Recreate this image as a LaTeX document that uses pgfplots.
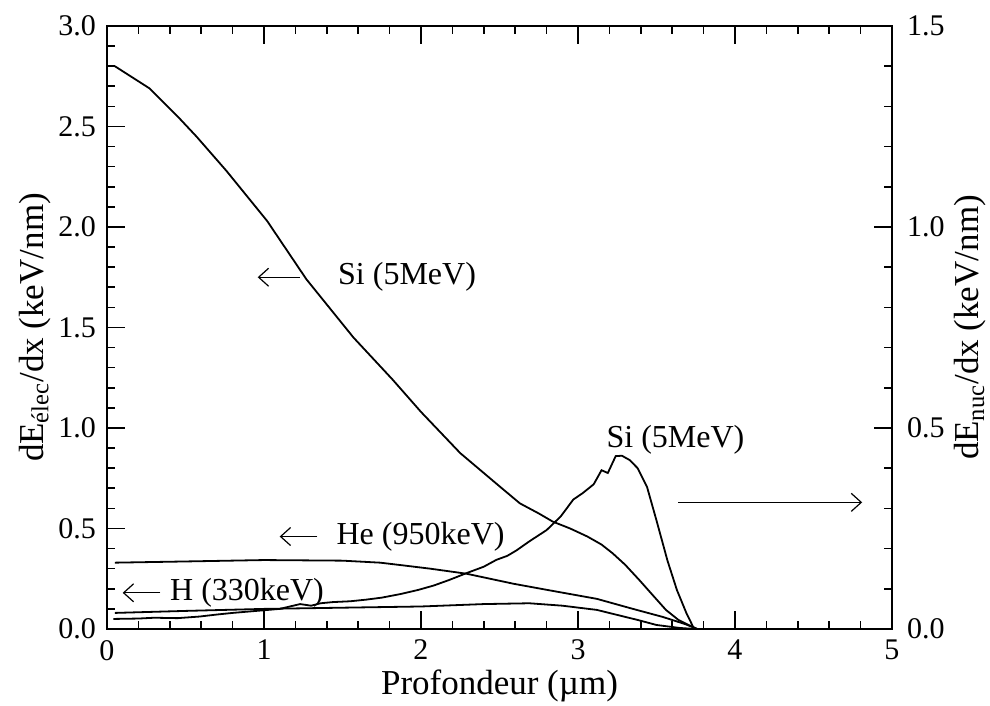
\documentclass[border=0pt]{standalone}
\usepackage{fontspec}
\setmainfont{Liberation Serif}
\usepackage{pgfplots}
\pgfplotsset{compat=1.18}
\usetikzlibrary{arrows.meta}

\pgfplotstableread{
x y
0.05 2.80
0.27 2.69
0.45 2.55
0.57 2.45
0.76 2.28
1.02 2.03
1.27 1.74
1.57 1.45
1.82 1.24
2.00 1.08
2.25 0.875
2.50 0.71
2.63 0.625
2.75 0.575
2.84 0.534
2.95 0.50
3.06 0.46
3.15 0.42
3.22 0.377
3.30 0.32
3.39 0.244
3.48 0.165
3.56 0.095
3.64 0.045
3.71 0.018
3.76 0.0
}\sielec

\pgfplotstableread{
x y
0.05 0.330
0.50 0.336
1.00 0.343
1.50 0.340
1.74 0.330
1.87 0.318
2.06 0.300
2.29 0.275
2.59 0.225
2.80 0.195
3.12 0.150
3.35 0.100
3.54 0.060
3.68 0.025
3.76 0.0
}\heelec

\pgfplotstableread{
x y
0.05 0.080
0.50 0.090
1.00 0.100
1.50 0.106
2.00 0.112
2.40 0.124
2.69 0.128
2.90 0.116
3.12 0.095
3.38 0.045
3.50 0.020
3.65 0.005
3.75 0.0
}\helec

\pgfplotstableread{
x y
0.04 0.025
0.20 0.026
0.30 0.028
0.45 0.027
0.59 0.031
0.70 0.036
0.80 0.040
0.95 0.045
1.10 0.050
1.23 0.062
1.30 0.058
1.36 0.064
1.44 0.067
1.55 0.069
1.65 0.073
1.75 0.078
1.87 0.087
1.98 0.097
2.08 0.108
2.18 0.122
2.29 0.139
2.40 0.155
2.48 0.172
2.55 0.182
2.61 0.196
2.69 0.218
2.80 0.246
2.89 0.280
2.97 0.322
3.03 0.338
3.10 0.360
3.15 0.395
3.19 0.388
3.24 0.430
3.28 0.431
3.33 0.420
3.38 0.400
3.44 0.353
3.50 0.270
3.57 0.170
3.63 0.097
3.69 0.040
3.74 0.0
}\sinuc

\begin{document}
\begin{tikzpicture}
\pgfplotsset{
  every axis/.append style={
    scale only axis,
    width=392.5pt, height=301.5pt,
    at={(0,0)}, anchor=south west,
    axis line style={line width=0.9pt},
    every tick/.style={black, line width=0.8pt},
    major tick length=9pt,
    minor tick length=4pt,
    tick label style={font=\fontsize{15}{17}\selectfont},
    label style={font=\fontsize{17.5}{20}\selectfont},
    /pgf/number format/assume math mode=true,
  },
}
\begin{axis}[
  xmin=0, xmax=5, ymin=0, ymax=3,
  xtick={0,1,2,3,4,5},
  minor x tick num=4,
  ytick={0,0.5,1,1.5,2,2.5,3},
  minor y tick num=4,
  ytick pos=left,
  xtick pos=both,
  xticklabel style={yshift=-2pt},
  yticklabel style={xshift=-2pt, /pgf/number format/.cd, fixed, fixed zerofill, precision=1},
  xlabel={Profondeur (µm)},
  ylabel={dE\textsubscript{élec}/dx (keV/nm)},
  xlabel style={at={(axis description cs:0.5,-0.095)}, anchor=center},
  ylabel style={at={(axis description cs:-0.092,0.5)}, anchor=center},
  clip=false,
]
\addplot[black, line width=0.9pt] table[x=x,y=y] {\sielec};
\addplot[black, line width=0.9pt] table[x=x,y=y] {\heelec};
\addplot[black, line width=0.9pt] table[x=x,y=y] {\helec};

\draw[line width=0.6pt, -{Straight Barb[length=5pt,width=9pt]}] (axis cs:1.23,1.75) -- (axis cs:0.96,1.75);
\node[anchor=west, inner sep=0, font=\fontsize{16}{18}\selectfont] at (axis cs:1.47,1.75) {Si (5MeV)};
\draw[line width=0.6pt, -{Straight Barb[length=5pt,width=9pt]}] (axis cs:1.34,0.46) -- (axis cs:1.10,0.46);
\node[anchor=west, inner sep=0, font=\fontsize{16}{18}\selectfont] at (axis cs:1.46,0.46) {He (950keV)};
\draw[line width=0.6pt, -{Straight Barb[length=5pt,width=9pt]}] (axis cs:0.34,0.18) -- (axis cs:0.10,0.18);
\node[anchor=west, inner sep=0, font=\fontsize{16}{18}\selectfont] at (axis cs:0.40,0.18) {H (330keV)};
\node[anchor=west, inner sep=0, font=\fontsize{16}{18}\selectfont] at (axis cs:3.18,0.94) {Si (5MeV)};
\draw[line width=0.6pt, -{Straight Barb[length=5pt,width=9pt]}] (axis cs:3.64,0.63) -- (axis cs:4.81,0.63);
\end{axis}

\begin{axis}[
  xmin=0, xmax=5, ymin=0, ymax=1.5,
  axis y line*=right,
  axis x line=none,
  ytick={0,0.5,1,1.5},
  minor y tick num=4,
  yticklabel style={xshift=4pt, /pgf/number format/.cd, fixed, fixed zerofill, precision=1},
  ylabel={dE\textsubscript{nuc}/dx (keV/nm)},
  ylabel style={at={(axis description cs:1.100,0.5)}, anchor=center},
]
\addplot[black, line width=0.9pt] table[x=x,y=y] {\sinuc};
\end{axis}
\pgfresetboundingbox
\useasboundingbox (-53.5pt,-38.5pt) rectangle (441.5pt,314.5pt);
\end{tikzpicture}
\end{document}
